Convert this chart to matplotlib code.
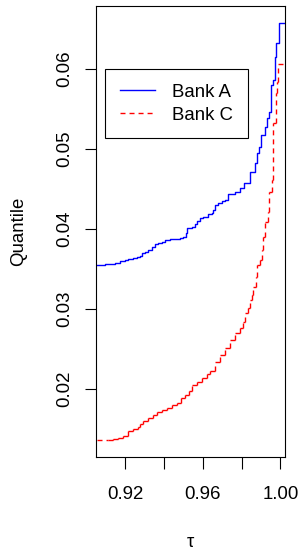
import matplotlib
matplotlib.use("Agg")
import matplotlib.pyplot as plt
from matplotlib.collections import LineCollection

plt.rcParams.update({
    'font.family': ['Liberation Sans', 'DejaVu Sans'],
    'font.size': 13.4,
    'axes.linewidth': 0.8,
    'xtick.major.width': 0.8,
    'ytick.major.width': 0.8,
    'xtick.major.size': 8.3,
    'ytick.major.size': 8.0,
})

# Bank A quantile step function (tau, quantile)
tau_a = [0.9054, 0.9097, 0.9123, 0.9149, 0.9174, 0.9200, 0.9217, 0.9243,
         0.9260, 0.9277, 0.9286, 0.9303, 0.9320, 0.9337, 0.9354, 0.9372,
         0.9389, 0.9406, 0.9432, 0.9457, 0.9483, 0.9500, 0.9512, 0.9521,
         0.9543, 0.9560, 0.9569, 0.9586, 0.9603, 0.9629, 0.9646, 0.9655,
         0.9663, 0.9681, 0.9698, 0.9715, 0.9732, 0.9766, 0.9792, 0.9813,
         0.9844, 0.9869, 0.9880, 0.9890, 0.9900, 0.9921, 0.9929, 0.9941,
         0.9952, 0.9960, 0.9971, 0.9977, 0.9993, 1.0030]
q_a = [0.03550, 0.03558, 0.03563, 0.03579, 0.03596, 0.03608, 0.03625, 0.03642,
       0.03650, 0.03658, 0.03696, 0.03717, 0.03738, 0.03771, 0.03808, 0.03829,
       0.03842, 0.03858, 0.03871, 0.03875, 0.03883, 0.03900, 0.03946, 0.04008,
       0.04021, 0.04058, 0.04100, 0.04133, 0.04154, 0.04183, 0.04196, 0.04238,
       0.04300, 0.04321, 0.04350, 0.04363, 0.04438, 0.04466, 0.04509, 0.04575,
       0.04716, 0.04825, 0.04950, 0.05029, 0.05175, 0.05279, 0.05384, 0.05466,
       0.05800, 0.05863, 0.06154, 0.06321, 0.06571, 0.06571]

# Bank C quantile step function
tau_c = [0.9054, 0.9114, 0.9140, 0.9166, 0.9191, 0.9217, 0.9243, 0.9269,
         0.9277, 0.9294, 0.9320, 0.9346, 0.9363, 0.9389, 0.9415, 0.9440,
         0.9466, 0.9488, 0.9509, 0.9531, 0.9547, 0.9569, 0.9595, 0.9620,
         0.9638, 0.9663, 0.9689, 0.9715, 0.9741, 0.9766, 0.9792, 0.9806,
         0.9818, 0.9835, 0.9844, 0.9852, 0.9861, 0.9873, 0.9881, 0.9895,
         0.9904, 0.9912, 0.9921, 0.9938, 0.9943, 0.9955, 0.9962, 0.9976,
         0.9981, 0.9989, 1.0012]
q_c = [0.01358, 0.01367, 0.01375, 0.01388, 0.01413, 0.01475, 0.01500, 0.01529,
       0.01563, 0.01604, 0.01633, 0.01675, 0.01708, 0.01738, 0.01767, 0.01796,
       0.01825, 0.01883, 0.01925, 0.01979, 0.02050, 0.02092, 0.02133, 0.02188,
       0.02225, 0.02341, 0.02425, 0.02509, 0.02613, 0.02696, 0.02759, 0.02841,
       0.02946, 0.03009, 0.03113, 0.03170, 0.03279, 0.03404, 0.03550, 0.03613,
       0.03738, 0.03904, 0.04091, 0.04216, 0.04466, 0.04613, 0.05325, 0.05700,
       0.05838, 0.06059, 0.06059]

x_ticks = [0.92, 0.94, 0.96, 0.98, 1.00]
x_tick_labels = ['0.92', '', '0.96', '', '1.00']
y_ticks = [0.02, 0.03, 0.04, 0.05, 0.06]
y_tick_labels = ['0.02', '0.03', '0.04', '0.05', '0.06']

fig = plt.figure(figsize=(3.01, 5.5), dpi=100)
ax = fig.add_axes([0.3189, 0.1691, 0.6279, 0.82])

ax.step(tau_a, q_a, where='post', color='#0000FF', lw=1.0, label='Bank A')

# Bank C drawn segment by segment so the dash pattern restarts on each piece
segs = []
for i in range(len(tau_c) - 1):
    segs.append([(tau_c[i], q_c[i]), (tau_c[i + 1], q_c[i])])
    segs.append([(tau_c[i + 1], q_c[i]), (tau_c[i + 1], q_c[i + 1])])
lc = LineCollection(segs, colors='#FF0000', linewidths=1.0,
                    linestyles=[(0, (3.6, 2.9))], label='Bank C')
ax.add_collection(lc)

ax.set_xlim(0.90507, 1.00237)
ax.set_ylim(0.0115, 0.067875)

ax.set_xticks(x_ticks)
ax.set_xticklabels(x_tick_labels)
ax.set_yticks(y_ticks)
ax.set_yticklabels(y_tick_labels, rotation=90, va='center')
ax.tick_params(axis='x', pad=12.5)
ax.tick_params(axis='y', pad=8.5)

ax.set_xlabel('τ')
ax.xaxis.set_label_coords(0.5, -0.1705)
ax.set_ylabel('Quantile')
ax.yaxis.set_label_coords(-0.367, 0.5)

leg = ax.legend(loc='upper left', bbox_to_anchor=(0.0476, 0.8603),
                borderaxespad=0, fancybox=False, edgecolor='black',
                framealpha=1, borderpad=0.8, handlelength=1.9,
                handletextpad=0.9, labelspacing=0.3)
leg.get_frame().set_linewidth(0.8)

fig.savefig('out.png', dpi=100)
